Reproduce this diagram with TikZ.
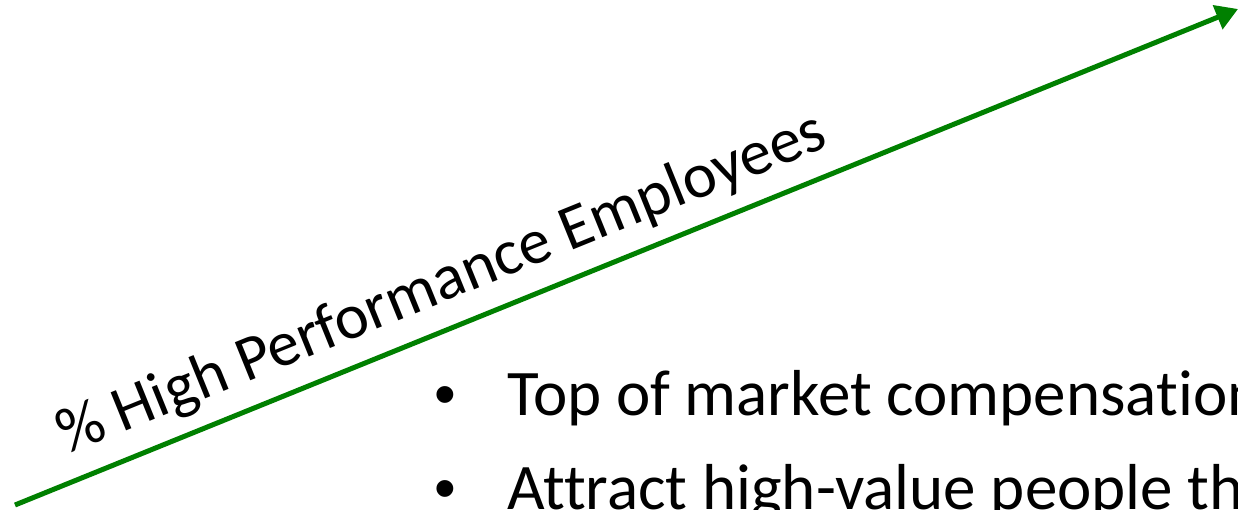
\documentclass[tikz,border=0pt]{standalone}
\usepackage{fontspec}
\setmainfont[Ligatures={NoCommon}]{Carlito}
\newfontfamily\bulletfont{Liberation Sans}
\usetikzlibrary{arrows.meta}
\definecolor{arrowgreen}{RGB}{0,128,0}
\tikzset{
  growth/.style={draw=arrowgreen, line width=5pt, -{Triangle[length=22pt,width=25pt]}},
  axislabel/.style={inner sep=0pt, font=\fontsize{64}{76}\selectfont, rotate=22.07, anchor=base west},
  itemtext/.style={inner sep=0pt, font=\fontsize{65}{78}\selectfont, anchor=base west},
  itemdot/.style={inner sep=0pt, font=\bulletfont\fontsize{62}{74}\selectfont, anchor=base},
}
\begin{document}
\begin{tikzpicture}[x=1pt,y=-1pt]
\useasboundingbox (0,0) rectangle (1238,509);
\clip (0,0) rectangle (1238,509);
\coordinate (start) at (15,505);
\coordinate (tip) at (1238,9);
\draw[growth] (start) -- (tip);
\node[axislabel] (axis) at (67,455) {\% High Performance Employees};
\node[itemdot] (d1) at (445,415) {•};
\node[itemtext] (b1) at (507,415) {Top of market compensat\kern0pt ion};
\node[itemdot] (d2) at (445,509) {•};
\node[itemtext] (b2) at (507,509) {Attract high-value people through};
\end{tikzpicture}
\end{document}
